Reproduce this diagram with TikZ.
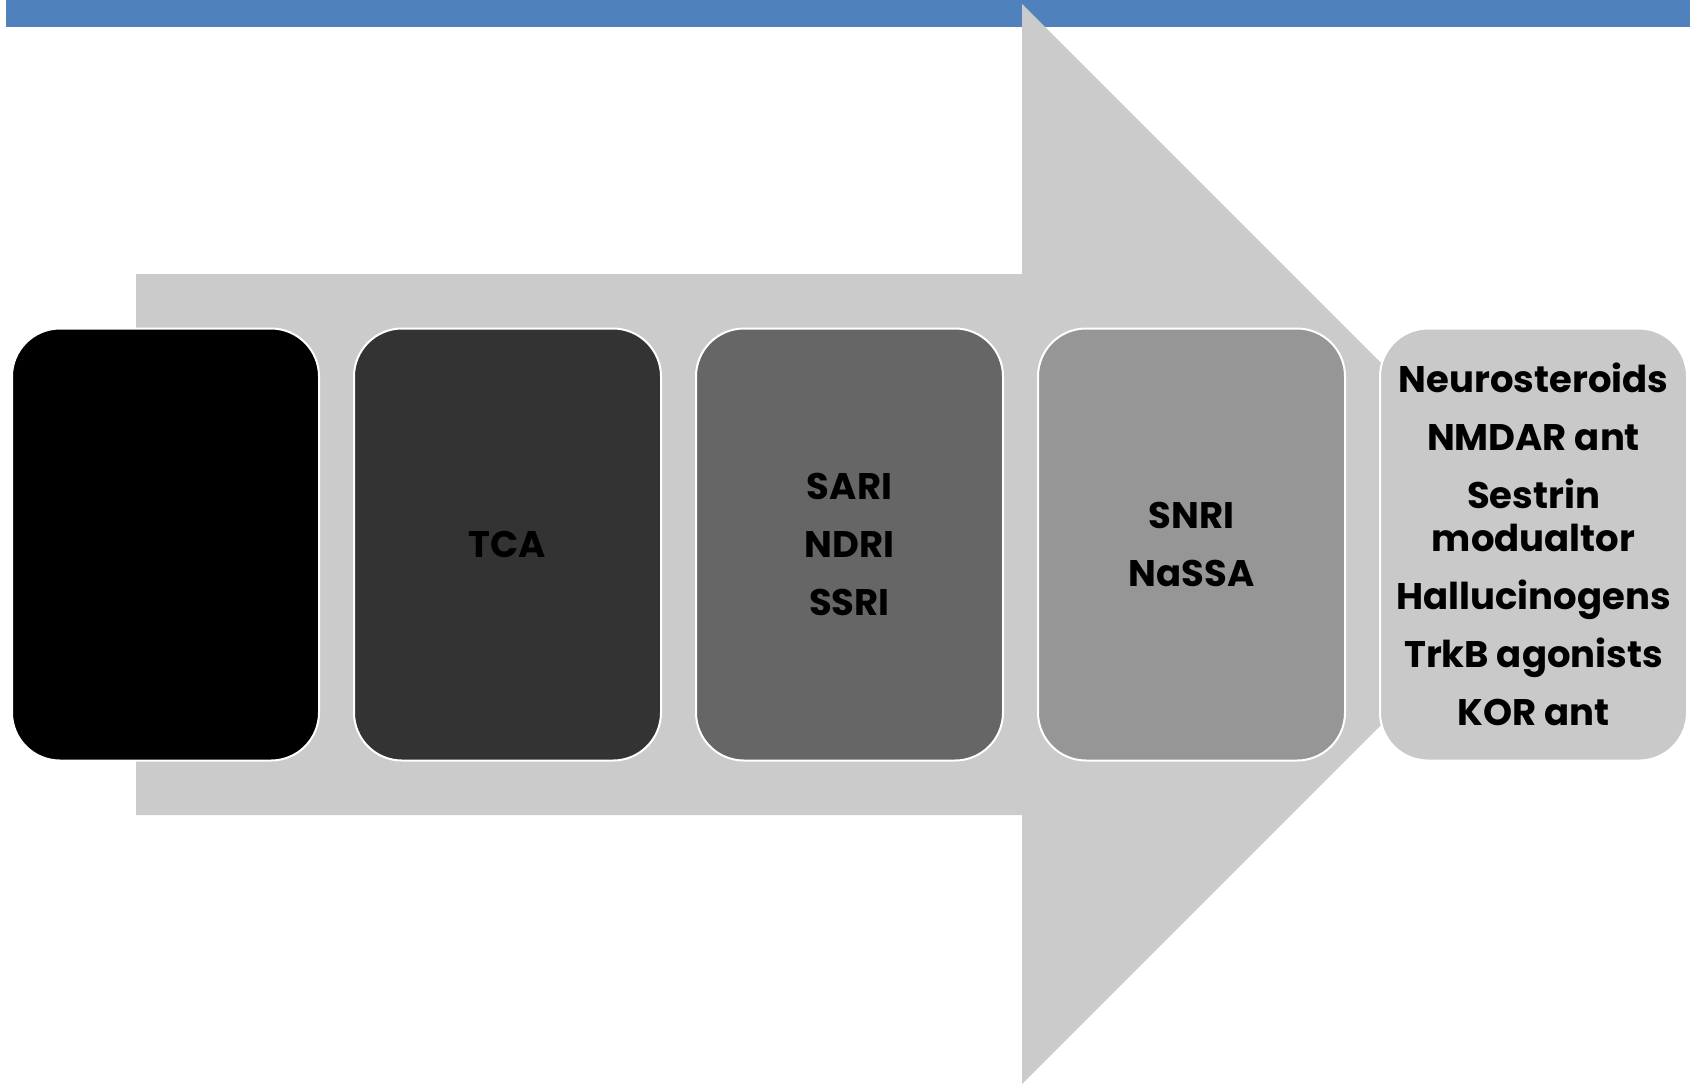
\documentclass[tikz,border=0pt]{standalone}
\usepackage{fontspec}
\setmainfont{Poppins}
\usetikzlibrary{positioning}
\definecolor{barblue}{HTML}{4F81BD}
\definecolor{arrowgray}{HTML}{CBCBCB}
\begin{document}
\begin{tikzpicture}[x=0.5pt, y=-0.5pt, node distance=17.5pt]
\tikzstyle{box}=[rectangle, rounded corners=24pt, draw=white, line width=1pt, outer sep=0pt, minimum width=153.5pt, minimum height=216pt, align=center, font=\bfseries\fontsize{18.5}{21.5}\selectfont]
\useasboundingbox (0,0) rectangle (1690,1084);
% banner and big arrow
\fill[barblue] (6,0) rectangle (1690,27);
\fill[arrowgray] (136,274) -- (1022,274) -- (1022,4) -- (1562,544) -- (1022,1084) -- (1022,815) -- (136,815) -- cycle;
% stages
\node [box, fill=black] (m) at (165.5,544.5) {};
\node [box, fill=black!80, right=of m] (t) {TCA};
\node [box, fill=black!60, right=of t] (s) {SARI\\[7.5pt]NDRI\\[7.5pt]SSRI};
\node [box, fill=black!41, right=of s] (n) {SNRI\\[7.5pt]NaSSA};
\node [box, fill=black!21, right=of n] (x) {Neurosteroids\\[7.5pt]NMDAR ant\\[7.5pt]Sestrin\\modualtor\\[7.5pt]Hallucinogens\\[7.5pt]TrkB agonists\\[7.5pt]KOR ant};
\end{tikzpicture}
\end{document}
